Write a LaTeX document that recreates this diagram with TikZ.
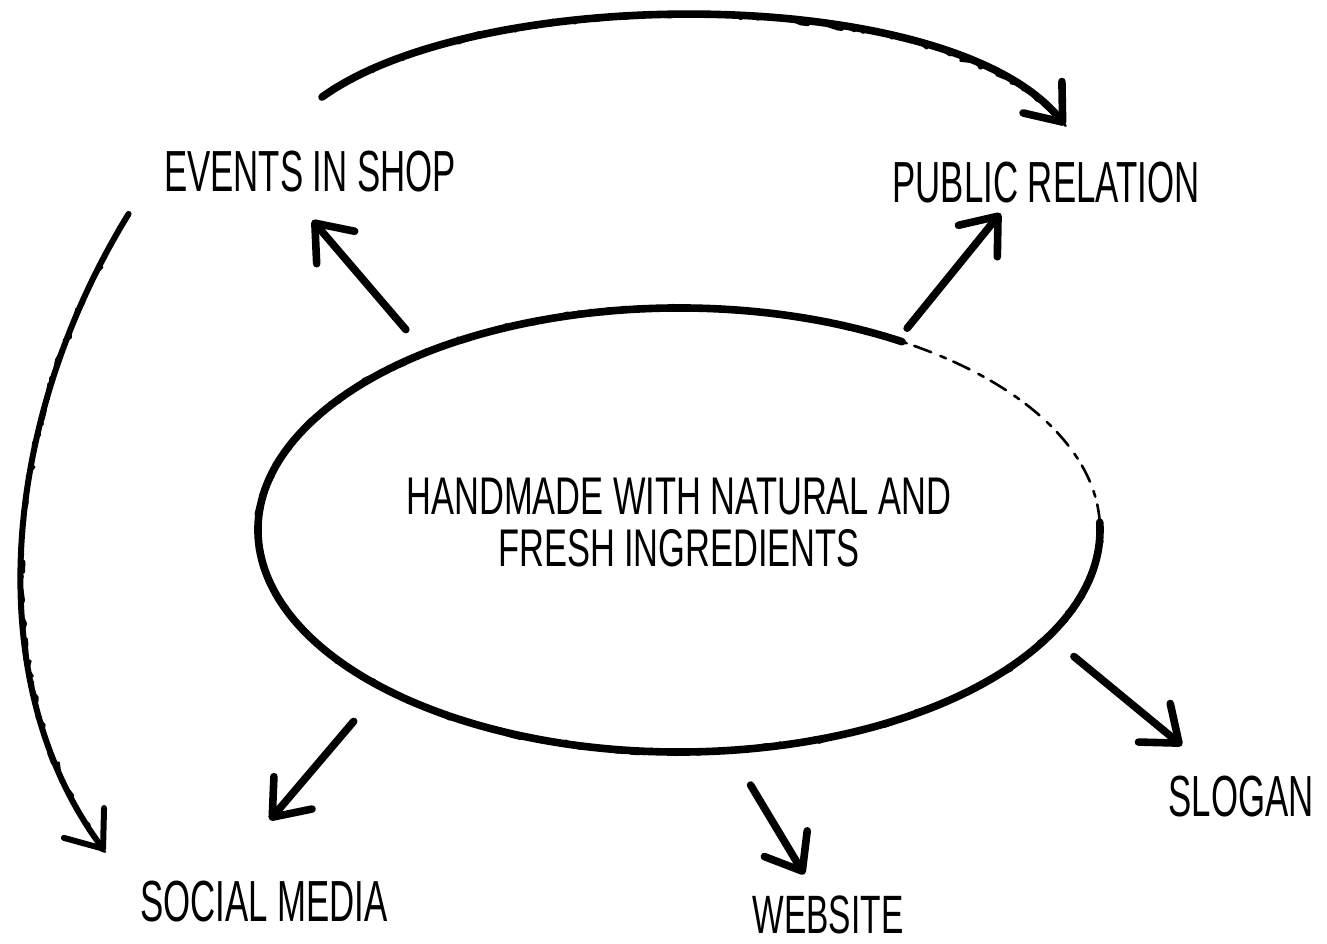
\documentclass[tikz,border=0pt]{standalone}
\usepackage{fontspec}
\setmainfont{Liberation Sans}
\usetikzlibrary{arrows.meta,shapes.geometric,decorations.pathmorphing,calc}

% squeeze a text horizontally to get tall, narrow hand-lettering
\newcommand\narrowtext[2]{\scalebox{#1}[1]{#2}}

\begin{document}
\begin{tikzpicture}[x=0.5pt,y=0.5pt,
  ink/.style={line width=3.8pt,line cap=round,line join=round},
  rough/.style={postaction={draw,-,line width=1.2pt,decorate,
      decoration={random steps,segment length=2.5pt,amplitude=1.6pt}}},
  tip/.style={-{Straight Barb[length=16pt,width=25pt,round]}},
  lbl/.style={inner sep=0pt,font=\fontsize{29}{29}\selectfont},
]
\pgfmathsetseed{11}
\useasboundingbox (0,0) rectangle (1327,943);

% central idea
\node[ellipse,minimum width=421pt,minimum height=222pt,inner sep=0pt,
      font=\fontsize{26.5}{26}\selectfont] (core) at (679,413)
  {\narrowtext{0.65}{\begin{tabular}{@{}c@{}}HANDMADE WITH NATURAL AND\\FRESH INGREDIENTS\end{tabular}}};

% outline of the central ellipse, the upper right part only lightly sketched
\draw[ink,rough] ($(core.center)+(58:210.5pt and 111pt)$)
  arc[start angle=58,end angle=362,x radius=210.5pt,y radius=111pt];
\draw[line width=1.3pt,line cap=round,dash pattern=on 9pt off 4pt on 3pt off 5pt]
  ($(core.center)+(2:210.5pt and 111pt)$)
  arc[start angle=2,end angle=58,x radius=210.5pt,y radius=111pt];

% channels
\node[lbl] (events) at (310,771) {\narrowtext{0.6}{EVENTS IN SHOP}};
\node[lbl] (pr) at (1046,760) {\narrowtext{0.6}{PUBLIC RELATION}};
\node[lbl] (socmed) at (264,41) {\narrowtext{0.6}{SOCIAL MEDIA}};
\node[lbl,anchor=south,font=\fontsize{27}{27}\selectfont] (web) at (828,9) {\narrowtext{0.62}{WEBSITE}};
\node[lbl] (slogan) at (1241,146) {\narrowtext{0.6}{SLOGAN}};

% arrows out of the central idea
\draw[ink,tip,shorten <=15pt,shorten >=18pt] (core.145) -- ([xshift=-10.5pt]events.south);
\draw[ink,tip,shorten <=7.5pt,shorten >=6pt] (core.41) -- ([xshift=-19pt]pr.south);
\draw[ink,tip,shorten <=22pt,shorten >=40pt] (core.208) -- ([xshift=-23pt]socmed.north);
\draw[ink,tip,shorten <=20pt,shorten >=12pt] (core.283) -- ([xshift=-5.7pt]web.north);
\draw[ink,tip,shorten <=16pt,shorten >=24pt] (core.344) -- ([xshift=-11pt]slogan.north);

% sweeping arrows around the outside
\draw[ink,tip,rough] ([shift={(6pt,27pt)}]events.north)
  .. controls (480,960) and (950,960) .. ([shift={(9.5pt,18.5pt)}]pr.north);
\draw[ink,line width=3pt,tip,rough] ([shift={(-17.5pt,-10.5pt)}]events.south west)
  .. controls (0,520) and (-20,260) .. ([shift={(-17.5pt,15pt)}]socmed.north west);
\end{tikzpicture}
\end{document}
